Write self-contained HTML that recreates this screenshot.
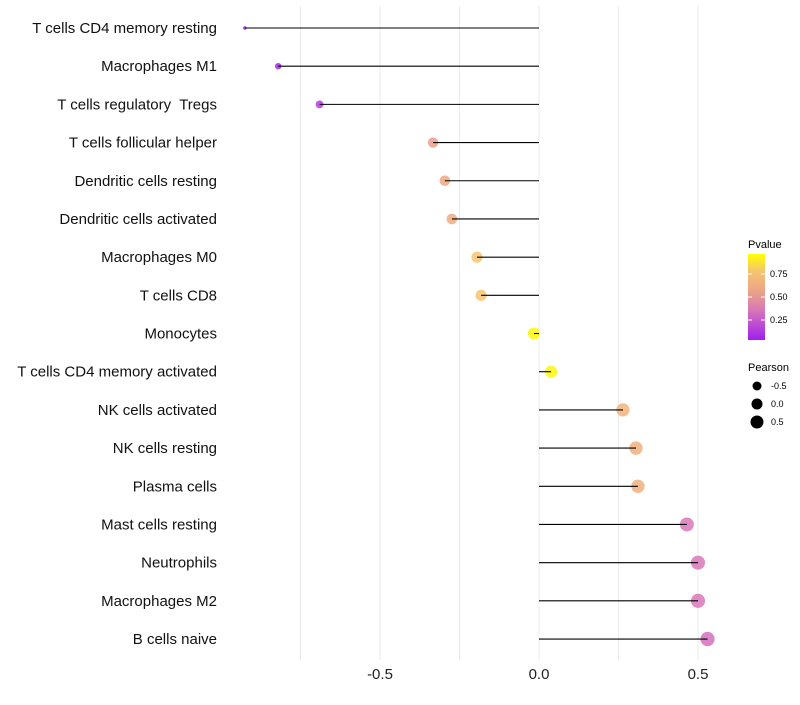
<!DOCTYPE html>
<html><head><meta charset="utf-8"><style>
body{margin:0;background:#fff;font-family:"Liberation Sans",sans-serif}
</style></head><body>
<svg id="chart" width="800" height="700" xmlns="http://www.w3.org/2000/svg">
<defs><linearGradient id="pg" x1="0" y1="1" x2="0" y2="0">
<stop offset="0" stop-color="#a01ef0"/><stop offset="0.35" stop-color="#d878b8"/><stop offset="0.55" stop-color="#e8a088"/><stop offset="0.65" stop-color="#f0b080"/><stop offset="0.8" stop-color="#f4c470"/><stop offset="1" stop-color="#ffff00"/></linearGradient></defs>
<g id="grid"></g><g id="dots"></g><g id="marks"></g><g id="labels"></g>
<g>
<text x="748" y="248" font-size="11">Pvalue</text>
<rect x="748" y="254" width="17" height="86" fill="url(#pg)"/>
<line x1="748" y1="274" x2="752" y2="274" stroke="#fff"/><line x1="761" y1="274" x2="765" y2="274" stroke="#fff"/>
<line x1="748" y1="297" x2="752" y2="297" stroke="#fff"/><line x1="761" y1="297" x2="765" y2="297" stroke="#fff"/>
<line x1="748" y1="320" x2="752" y2="320" stroke="#fff"/><line x1="761" y1="320" x2="765" y2="320" stroke="#fff"/>
<text x="770" y="277" font-size="9">0.75</text><text x="770" y="300" font-size="9">0.50</text><text x="770" y="323" font-size="9">0.25</text>
</g>
<g>
<text x="748" y="371" font-size="11">Pearson</text>
<circle cx="757" cy="386" r="4.5"/><text x="771" y="389" font-size="9">-0.5</text>
<circle cx="757" cy="404" r="5.5"/><text x="771" y="407" font-size="9">0.0</text>
<circle cx="757" cy="422" r="6.5"/><text x="771" y="425" font-size="9">0.5</text>
</g>
</svg>
<script>
const categories=["T cells CD4 memory resting","Macrophages M1","T cells regulatory  Tregs","T cells follicular helper","Dendritic cells resting","Dendritic cells activated","Macrophages M0","T cells CD8","Monocytes","T cells CD4 memory activated","NK cells activated","NK cells resting","Plasma cells","Mast cells resting","Neutrophils","Macrophages M2","B cells naive"];
const pearson=[-0.925,-0.82,-0.69,-0.333,-0.296,-0.274,-0.195,-0.182,-0.016,0.038,0.264,0.305,0.311,0.465,0.5,0.5,0.53];
const pvalue=[0.01,0.03,0.12,0.55,0.6,0.62,0.8,0.8,0.98,0.97,0.68,0.65,0.65,0.35,0.35,0.35,0.32];
const xTicks=[-0.5,0,0.5];
const xTickLabels=["-0.5","0.0","0.5"];
const NS="http://www.w3.org/2000/svg";
const xs=v=>539+v*318;
const ys=i=>28+i*38.19;
const rs=v=>1.8+4.4*Math.sqrt(Math.max(0,v+0.925));
const stops=[[0,[160,30,240]],[0.35,[216,120,184]],[0.55,[232,160,136]],[0.65,[240,176,128]],[0.8,[244,196,112]],[1,[255,255,0]]];
function col(p){for(let k=1;k<stops.length;k++){if(p<=stops[k][0]){const a=stops[k-1],b=stops[k],t=(p-a[0])/(b[0]-a[0]);return 'rgb('+a[1].map((c,j)=>Math.round(c+(b[1][j]-c)*t)).join(',')+')';}}return 'rgb(255,255,0)';}
function mk(t,a,p){const e=document.createElementNS(NS,t);for(const k in a)e.setAttribute(k,a[k]);p.appendChild(e);return e;}
const grid=document.getElementById('grid'),marks=document.getElementById('marks'),dots=document.getElementById('dots'),labels=document.getElementById('labels');
[-0.75,-0.5,-0.25,0,0.25,0.5].forEach(v=>{const l=mk('line',{x1:xs(v),x2:xs(v),y1:6,y2:660,stroke:'#ebebeb','stroke-width':1},grid);

});
xTicks.forEach((v,i)=>{const t=mk('text',{x:xs(v),y:679,'font-size':15,'text-anchor':'middle',fill:'#222'},labels);t.textContent=xTickLabels[i];

});
categories.forEach((c,i)=>{const y=ys(i);
const t=mk('text',{x:217,y:y+5,'font-size':15,'text-anchor':'end',fill:'#111',style:'white-space:pre'},labels);t.textContent=c;


const d=mk('circle',{cx:xs(pearson[i]),cy:y,r:rs(pearson[i]),fill:col(pvalue[i]),'fill-opacity':0.85},dots);


const l=mk('line',{x1:xs(0),x2:xs(pearson[i]),y1:y,y2:y,stroke:'#000','stroke-width':1.1},marks);

});
</script>
</body></html>
